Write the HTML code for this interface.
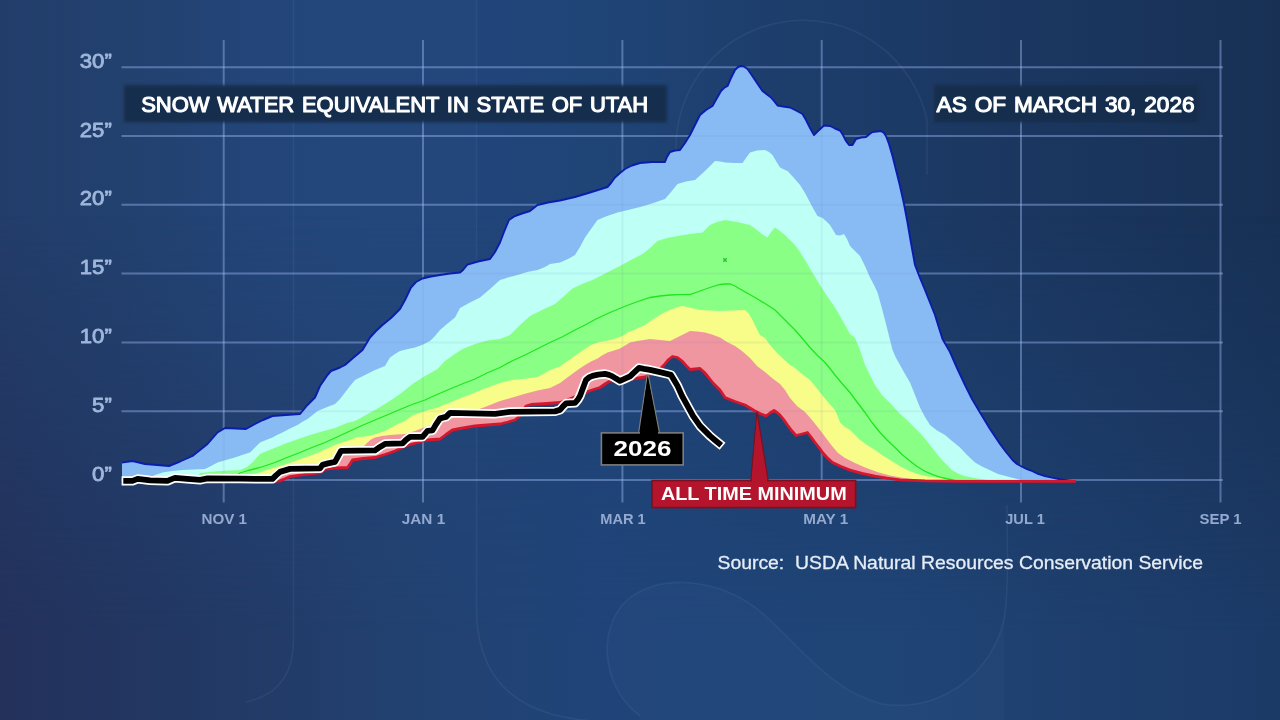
<!DOCTYPE html>
<html lang="en"><head><meta charset="utf-8"><title>Snow Water Equivalent in State of Utah</title>
<style>
html,body{margin:0;padding:0;background:#21426f;overflow:hidden}
svg{display:block;width:1280px;height:720px;font-family:"Liberation Sans",sans-serif}
.yl text{font-size:19.8px;fill:#9fb6dc;stroke:#9fb6dc;stroke-width:.8px;stroke-linejoin:round}
.xl text{font-size:15px;font-weight:bold;fill:#93a9cf}
.ttl{font-size:21.2px;fill:#fff;stroke:#fff;stroke-width:1.1px;stroke-linejoin:round;word-spacing:1.5px}
</style></head><body>
<svg width="1280" height="720" viewBox="0 0 1280 720">
<defs>
<linearGradient id="bgx" x1="0" y1="0" x2="1" y2="0">
<stop offset="0" stop-color="#233d6a"/><stop offset=".1" stop-color="#22416f"/><stop offset=".2" stop-color="#234579"/><stop offset=".26" stop-color="#23477b"/><stop offset=".371" stop-color="#23477b"/><stop offset=".372" stop-color="#21457a"/><stop offset=".47" stop-color="#1f4476"/><stop offset=".7" stop-color="#1c3a66"/><stop offset=".86" stop-color="#1a355d"/><stop offset="1" stop-color="#173054"/>
</linearGradient>
<linearGradient id="bgb" x1="0" y1="0" x2="1" y2="0">
<stop offset="0" stop-color="#23315b"/><stop offset=".12" stop-color="#223762"/><stop offset=".23" stop-color="#223c69"/><stop offset=".31" stop-color="#224170"/><stop offset=".47" stop-color="#204479"/><stop offset=".7" stop-color="#1f4476"/><stop offset=".85" stop-color="#1e3f6e"/><stop offset="1" stop-color="#1c3a66"/>
</linearGradient>
<linearGradient id="vm" x1="0" y1="0" x2="0" y2="1">
<stop offset=".3" stop-color="#000"/><stop offset=".88" stop-color="#fff"/>
</linearGradient>
<mask id="vmask" maskUnits="userSpaceOnUse" x="0" y="0" width="1280" height="720"><rect width="1280" height="720" fill="url(#vm)"/></mask>
<filter id="soft" x="-5%" y="-20%" width="110%" height="140%"><feGaussianBlur stdDeviation="1.6"/></filter>
<clipPath id="fillclip"><polygon points="122,462.5 132.5,461 145,464 157,465 169,466 180,461.5 192.5,456 207.5,444 217.5,432.5 225,428 236,428.5 246,429 255,424 263,420 272.5,416 286,415 300,414 307.5,405 315,397.5 320,386 327.5,375 331,371 340,367.5 345,365 353,358 362.5,350 370,337.5 376,331 382.5,325 391,318 400,309 405,300 411,287.5 416,282 422.5,278.5 431,276.5 440,275 450,273.5 460,272.5 463,270 467.5,264.5 478,261.5 490,259 495,252 500,242.5 504,232 509,220 515,216 522,213.5 530,211 537.5,205 548,202.5 560,200.5 575,197 590,192.5 607.5,187 611,183 615,177.5 620,173 625,169 632,165.5 640,163 652,162 665,162 667,157 670,152 675,150.5 680,150 685,143 690,135 695,125 700,115 706,110 712.5,106 717,98 721,91 724,88 727.5,86 731,78 735,70 738,67 741,66 744,66.5 747.5,69 751,74 755,80 759,86 762.5,91 767,94.5 771,97.5 774,101 777.5,105.5 783,106.5 790,107.5 796,110.5 802.5,114 806,120 810,128 814,135 818,131 824,125.5 830,126 835,128.5 840,130.5 843,135 846,141 849,145 852.5,145 856,139 861,137.5 866,137 869,134.5 872.5,132 877,131.5 881,131 884,133 886,136 889,144 892.5,156 896,170 900,186 904,204 907.5,222.5 911,243 915,265 920,278 925,290 930,302.5 935,315 939,328 942.5,339 950,352 957,368 965,385 972,399 980,412.5 990,429 1000,444 1006,452 1012.5,460 1017,464 1022.5,467 1027,469.07 1032.5,471.23 1038,473.91 1045,476.06 1052,477.68 1060,479.29 1068,480.36 1076,481.4 1076,481.4 960,481.4 925,480.9 900,479.82 887,478.21 875,476.06 862,473.38 850,470.15 841,466.5 832.5,462.5 827,457.5 822.5,452.5 819,447.5 815,442.5 811,437 807.5,432.5 802,434 796,435.5 792,431 787.5,425 784,420 780,415 777,412.5 774,410.5 770,413 766,416 760,413.5 755,411 750,408 745,405 735,401.5 725,397.5 720,390 713,383 707.5,376 704,372 700,368.5 695,369 690,369.5 686,365.5 682,361 677.5,357.5 672.5,356.5 668,360 664,365 660,369 655,373 645,377 632,379 620,380 610,381 605,384 600,387.5 592,390 585,392.5 572,398 560,402.5 547,403.5 531,404.5 526,406 522,411 519,416.5 515,420 508,422 500,424 487,425 475,426 463,428 452.5,430 446,434.5 440,439 427.5,440 416,443 405,446 400,448.5 395,451 385,454.5 375,457.5 363,458.5 352.5,460 350,464 347.5,467.5 336,468 325,469.07 320,472.84 305,474.45 290,476.6 285,478.75 280,480.9 275,481.4 122,481.4"/></clipPath>
</defs>
<rect width="1280" height="720" fill="url(#bgx)"/>
<rect width="1280" height="720" fill="url(#bgb)" mask="url(#vmask)"/>
<g fill="none" stroke="#bcd2ff" stroke-opacity=".07" stroke-width="1.6">
<path d="M293.5 0V640Q293.5 692 246 702"/>
<path d="M476.5 0V612C478 682 520 716 592 721"/>
<path d="M640 716C606 690 596 640 622 605C655 570 722 578 762 613C802 648 832 692 882 704C942 713 992 672 1004 620C1009 590 1007 545 1007 505"/>
<path d="M676 150A127 127 0 0 1 927 120V175"/>
</g>
<path d="M640 716C606 690 596 640 622 605C655 570 722 578 762 613C802 648 832 692 882 704C942 713 992 672 1004 620L1004 720H640Z" fill="#9fc0ff" fill-opacity=".025"/>
<g stroke="#a8c4ff" stroke-opacity=".4" stroke-width="2" fill="none"><line x1="223.7" y1="40" x2="223.7" y2="502.5"/><line x1="423.0" y1="40" x2="423.0" y2="502.5"/><line x1="622.4" y1="40" x2="622.4" y2="502.5"/><line x1="821.7" y1="40" x2="821.7" y2="502.5"/><line x1="1021.0" y1="40" x2="1021.0" y2="502.5"/><line x1="1220.5" y1="40" x2="1220.5" y2="502.5"/><line x1="121.5" y1="67.2" x2="1223" y2="67.2"/><line x1="121.5" y1="136" x2="1223" y2="136"/><line x1="121.5" y1="204.8" x2="1223" y2="204.8"/><line x1="121.5" y1="273.6" x2="1223" y2="273.6"/><line x1="121.5" y1="342.4" x2="1223" y2="342.4"/><line x1="121.5" y1="411.2" x2="1223" y2="411.2"/><line x1="121.5" y1="480.1" x2="1223" y2="480.1"/></g>
<g stroke="none">
<polygon fill="#88bbf4" points="122,462.5 132.5,461 145,464 157,465 169,466 180,461.5 192.5,456 207.5,444 217.5,432.5 225,428 236,428.5 246,429 255,424 263,420 272.5,416 286,415 300,414 307.5,405 315,397.5 320,386 327.5,375 331,371 340,367.5 345,365 353,358 362.5,350 370,337.5 376,331 382.5,325 391,318 400,309 405,300 411,287.5 416,282 422.5,278.5 431,276.5 440,275 450,273.5 460,272.5 463,270 467.5,264.5 478,261.5 490,259 495,252 500,242.5 504,232 509,220 515,216 522,213.5 530,211 537.5,205 548,202.5 560,200.5 575,197 590,192.5 607.5,187 611,183 615,177.5 620,173 625,169 632,165.5 640,163 652,162 665,162 667,157 670,152 675,150.5 680,150 685,143 690,135 695,125 700,115 706,110 712.5,106 717,98 721,91 724,88 727.5,86 731,78 735,70 738,67 741,66 744,66.5 747.5,69 751,74 755,80 759,86 762.5,91 767,94.5 771,97.5 774,101 777.5,105.5 783,106.5 790,107.5 796,110.5 802.5,114 806,120 810,128 814,135 818,131 824,125.5 830,126 835,128.5 840,130.5 843,135 846,141 849,145 852.5,145 856,139 861,137.5 866,137 869,134.5 872.5,132 877,131.5 881,131 884,133 886,136 889,144 892.5,156 896,170 900,186 904,204 907.5,222.5 911,243 915,265 920,278 925,290 930,302.5 935,315 939,328 942.5,339 950,352 957,368 965,385 972,399 980,412.5 990,429 1000,444 1006,452 1012.5,460 1017,464 1022.5,467 1027,469.07 1032.5,471.23 1038,473.91 1045,476.06 1052,477.68 1060,479.29 1068,480.36 1076,481.4 1076,481.4 960,481.4 925,480.9 900,479.82 887,478.21 875,476.06 862,473.38 850,470.15 841,466.5 832.5,462.5 827,457.5 822.5,452.5 819,447.5 815,442.5 811,437 807.5,432.5 802,434 796,435.5 792,431 787.5,425 784,420 780,415 777,412.5 774,410.5 770,413 766,416 760,413.5 755,411 750,408 745,405 735,401.5 725,397.5 720,390 713,383 707.5,376 704,372 700,368.5 695,369 690,369.5 686,365.5 682,361 677.5,357.5 672.5,356.5 668,360 664,365 660,369 655,373 645,377 632,379 620,380 610,381 605,384 600,387.5 592,390 585,392.5 572,398 560,402.5 547,403.5 531,404.5 526,406 522,411 519,416.5 515,420 508,422 500,424 487,425 475,426 463,428 452.5,430 446,434.5 440,439 427.5,440 416,443 405,446 400,448.5 395,451 385,454.5 375,457.5 363,458.5 352.5,460 350,464 347.5,467.5 336,468 325,469.07 320,472.84 305,474.45 290,476.6 285,478.75 280,480.9 275,481.4 122,481.4"/>
<polygon fill="#befff6" points="148,478 155,475 162.5,472.5 172,471 182.5,470 194,469.5 205,469 211,466 217.5,462.5 226,460 235,457.5 242,455 250,452.5 260,442.5 266,440 272.5,437.5 277,435 282.5,432.5 290,428.5 297.5,425 302,422 307.5,419 312,415.5 317.5,411 326,407.5 335,404 340,399 345,392.5 350,386 355,380 365,375 375,370 385,366 390,357.5 395,354 400,351 408,349 415,347.5 422,345 430,341 435,336 440,330 447,324 455,317.5 460,308 470,302.5 480,297.5 490,289 500,280 508,277.5 517.5,275 527,272 537.5,270 545,267 550,264 560,262.5 568,259 575,255 580,247 585,237.5 591,229 597.5,220 607,216 617.5,212.5 628,210 640,207 652,203.5 665,199 671,192 677.5,184 686,181.5 695,180 705,171 715,161 720,161.5 725,162.5 734,163 742.5,163 746,158 750,152.5 757,150.5 765,150 769,152 772.5,155 776,161 780,167.5 784,169.5 787.5,171 794,178 800,185 805,193 810,202.5 814,210 817.5,216 822.5,218 826,221 830,225 833,230 836,235 840,235.5 844,234 847,239 850,246 855,251 860,256 865,266 870,277.5 874,285 877.5,292.5 881,305 885,320 889,336 892.5,350 896,358 900,365 905,374 910,382.5 915,395 920,407.5 925,417 930,425 937,430.5 945,435 952,441 960,447.5 967,455 975,462.5 982,466.5 990,470.15 998,473.91 1007.5,476.6 1020,479.82 1035,481.4 1035,481.4 960,481.4 925,480.9 900,479.82 887,478.21 875,476.06 862,473.38 850,470.15 841,466.5 832.5,462.5 827,457.5 822.5,452.5 819,447.5 815,442.5 811,437 807.5,432.5 802,434 796,435.5 792,431 787.5,425 784,420 780,415 777,412.5 774,410.5 770,413 766,416 760,413.5 755,411 750,408 745,405 735,401.5 725,397.5 720,390 713,383 707.5,376 704,372 700,368.5 695,369 690,369.5 686,365.5 682,361 677.5,357.5 672.5,356.5 668,360 664,365 660,369 655,373 645,377 632,379 620,380 610,381 605,384 600,387.5 592,390 585,392.5 572,398 560,402.5 547,403.5 531,404.5 526,406 522,411 519,416.5 515,420 508,422 500,424 487,425 475,426 463,428 452.5,430 446,434.5 440,439 427.5,440 416,443 405,446 400,448.5 395,451 385,454.5 375,457.5 363,458.5 352.5,460 350,464 347.5,467.5 336,468 325,469.07 320,472.84 305,474.45 290,476.6 285,478.75 280,480.9 275,481.4 148,481.4"/>
<polygon fill="#8aff86" points="196,479 200,473 210,472 220,471 230,470.5 240,470 247,467 253,462 260,454 272,449 285,443.7 297,439.5 310,435 322,431.5 335,428 347,423 355,421 365,415.5 375,410 385,404 395,397.5 400,394 412.5,384 425,376 437.5,369 445,361 454,354.5 462.5,349 475,344 487.5,340.5 500,339 510,335 520,325 530,316 542,310 555,304 563,297 572.5,288.5 582,284 592.5,280 606,273 620,266 631,260 642.5,254 650,248 657.5,241 667,238 677.5,236 690,234 702.5,232.5 706,229 710,225 717,222 725,220 737,222 750,225 755,228.5 760,232.5 764,235.5 767.5,237.5 771,232 775,227.5 780,231 785,235 790,240 795,245 800,252 805,260 812,272 820,285 827,296 835,307.5 840,316 845,325 850,334 855,338 860,350 865,365 870,375 875,385 882,395 892,405 899,413 907,420 913,426 919.5,432.5 926,440 932,447.5 937,454 942,460 947,465 952,470.15 958,473.38 964.5,476.06 973,477.68 982,479.29 1002,481.4 1002,481.4 960,481.4 925,480.9 900,479.82 887,478.21 875,476.06 862,473.38 850,470.15 841,466.5 832.5,462.5 827,457.5 822.5,452.5 819,447.5 815,442.5 811,437 807.5,432.5 802,434 796,435.5 792,431 787.5,425 784,420 780,415 777,412.5 774,410.5 770,413 766,416 760,413.5 755,411 750,408 745,405 735,401.5 725,397.5 720,390 713,383 707.5,376 704,372 700,368.5 695,369 690,369.5 686,365.5 682,361 677.5,357.5 672.5,356.5 668,360 664,365 660,369 655,373 645,377 632,379 620,380 610,381 605,384 600,387.5 592,390 585,392.5 572,398 560,402.5 547,403.5 531,404.5 526,406 522,411 519,416.5 515,420 508,422 500,424 487,425 475,426 463,428 452.5,430 446,434.5 440,439 427.5,440 416,443 405,446 400,448.5 395,451 385,454.5 375,457.5 363,458.5 352.5,460 350,464 347.5,467.5 336,468 325,469.07 320,472.84 305,474.45 290,476.6 285,478.75 280,480.9 275,481.4 196,481.4"/>
<polygon fill="#f7fd88" points="248,479 252,474.5 260,472.5 267,470 275,467.5 285,464.5 295,461 305,457.5 315,454 325,449.5 335,445 342,442.5 350,440 357,437 365,436.5 372.5,435 379,433 385,431 392,427 397.5,424 404,421.5 412.5,415.5 425,411 437.5,407.5 450,402.5 462.5,397.5 475,392.5 487.5,387.5 500,383 512.5,380 525,378.7 537.5,377 543.7,373.7 550,370 560,366.5 566,362 572.5,357.5 579,353 585,348.7 591,345 597.5,342.5 604,341.3 610,340 616,338.3 622.5,336 627.5,332.5 636,329 645,325 652,320 660,315 665,312 670,310 676,307.5 682.5,306 691,308 700,310 710,310.5 720,311 732,310.5 745,310 749,314 752.5,320 756,327.5 760,335 765,338 770,345 777,353 785,360.5 790,365 795,368 802,374 810,380 815,386 820,392.5 827,401 835,410 838,417 840,422.5 845,427 850,430 855,435 860,440 867,445 875,450 882,455 890,460 898,465 907.5,470.15 916,473.38 925,476.06 937,477.68 950,479.29 975,481.4 975,481.4 960,481.4 925,480.9 900,479.82 887,478.21 875,476.06 862,473.38 850,470.15 841,466.5 832.5,462.5 827,457.5 822.5,452.5 819,447.5 815,442.5 811,437 807.5,432.5 802,434 796,435.5 792,431 787.5,425 784,420 780,415 777,412.5 774,410.5 770,413 766,416 760,413.5 755,411 750,408 745,405 735,401.5 725,397.5 720,390 713,383 707.5,376 704,372 700,368.5 695,369 690,369.5 686,365.5 682,361 677.5,357.5 672.5,356.5 668,360 664,365 660,369 655,373 645,377 632,379 620,380 610,381 605,384 600,387.5 592,390 585,392.5 572,398 560,402.5 547,403.5 531,404.5 526,406 522,411 519,416.5 515,420 508,422 500,424 487,425 475,426 463,428 452.5,430 446,434.5 440,439 427.5,440 416,443 405,446 400,448.5 395,451 385,454.5 375,457.5 363,458.5 352.5,460 350,464 347.5,467.5 336,468 325,469.07 320,472.84 305,474.45 290,476.6 285,478.75 280,480.9 275,481.4 248,481.4"/>
<polygon fill="#f096a0" points="272,480.5 278,476.5 284,473.5 290,471 305,469.5 320,468.5 324,465.5 330,463 336,461 339,456 342,452.5 352,450.5 363,447 367.5,442.5 371,439.5 375,437.5 382,436 390,435 397,434.5 405,434 415,431 425,427 435,424 445,421 455,417 465,412.5 478,409.5 487.5,406 500,401 512.5,397.5 525,393.7 537.5,390.6 550,388 560,383 566,378.5 572.5,373.7 579,369 585,365 591,361.5 597.5,358.5 602,355.5 607.5,352.5 614,350.5 620,348.5 625,345.5 630,342.5 637,341 650,339 660,340 670,341 680,336 690,331 697,331.5 705,332.5 712,334.5 720,337.5 727,342 735,346 742,351 750,358 757,366 765,372 772,378 780,384 785,390 790,398 797,406 805,412 812,420 820,430 826,438 832,446 838,453 845,458 855,463 865,467.5 878,472.3 890,475.52 905,478.21 925,480.36 950,481.4 950,481.257 925,480.9 900,479.82 887,478.21 875,476.06 862,473.38 850,470.15 841,466.5 832.5,462.5 827,457.5 822.5,452.5 819,447.5 815,442.5 811,437 807.5,432.5 802,434 796,435.5 792,431 787.5,425 784,420 780,415 777,412.5 774,410.5 770,413 766,416 760,413.5 755,411 750,408 745,405 735,401.5 725,397.5 720,390 713,383 707.5,376 704,372 700,368.5 695,369 690,369.5 686,365.5 682,361 677.5,357.5 672.5,356.5 668,360 664,365 660,369 655,373 645,377 632,379 620,380 610,381 605,384 600,387.5 592,390 585,392.5 572,398 560,402.5 547,403.5 531,404.5 526,406 522,411 519,416.5 515,420 508,422 500,424 487,425 475,426 463,428 452.5,430 446,434.5 440,439 427.5,440 416,443 405,446 400,448.5 395,451 385,454.5 375,457.5 363,458.5 352.5,460 350,464 347.5,467.5 336,468 325,469.07 320,472.84 305,474.45 290,476.6 285,478.75 280,480.9 275,481.4 272,481.4"/>
</g>
<g clip-path="url(#fillclip)" stroke="#5f7fae" stroke-opacity=".09" stroke-width="2" fill="none"><line x1="223.7" y1="40" x2="223.7" y2="502.5"/><line x1="423.0" y1="40" x2="423.0" y2="502.5"/><line x1="622.4" y1="40" x2="622.4" y2="502.5"/><line x1="821.7" y1="40" x2="821.7" y2="502.5"/><line x1="1021.0" y1="40" x2="1021.0" y2="502.5"/><line x1="1220.5" y1="40" x2="1220.5" y2="502.5"/><line x1="121.5" y1="67.2" x2="1223" y2="67.2"/><line x1="121.5" y1="136" x2="1223" y2="136"/><line x1="121.5" y1="204.8" x2="1223" y2="204.8"/><line x1="121.5" y1="273.6" x2="1223" y2="273.6"/><line x1="121.5" y1="342.4" x2="1223" y2="342.4"/><line x1="121.5" y1="411.2" x2="1223" y2="411.2"/><line x1="121.5" y1="480.1" x2="1223" y2="480.1"/></g>
<path d="M238 474.5 L240 473 L250 470 L260 467.5 L275 462.5 L287 457.5 L300 452.5 L312 447.5 L325 442.5 L337 437 L350 431 L362 425.5 L375 420 L387 415 L400 409.5 L412 404.5 L425 400 L437 394.5 L450 389 L462 384 L475 379 L487 373 L500 367.5 L512 361 L525 355 L537 349 L550 342.5 L562 337 L575 330 L585 325 L597 318.5 L610 312.5 L622 307.5 L635 302.5 L650 297.5 L660 296 L670 295 L680 294.7 L690 294.5 L700 291 L710 287.5 L720 284.5 L725 284 L730 284 L735 286 L740 289 L747 293 L755 297.5 L765 303.5 L775 310 L785 320 L795 330 L802 338 L810 347.5 L817 355 L825 362.5 L830 368.5 L835 375 L842 383.5 L850 392.5 L857 402 L865 412.5 L872 422.5 L880 432.5 L887 440 L895 447.5 L902 454.5 L910 461 L917 466.5 L925 471.23 L932 474.45 L940 477.14 L947 478.75 L955 480.36 L965 481.4" fill="none" stroke="#1fe61f" stroke-width="1.3"/>
<path d="M723.3 258.3l3.4 3.4m0-3.4l-3.4 3.4" stroke="#27c427" stroke-width="1.4" fill="none"/>
<path d="M122 462.5 L132.5 461 L145 464 L157 465 L169 466 L180 461.5 L192.5 456 L207.5 444 L217.5 432.5 L225 428 L236 428.5 L246 429 L255 424 L263 420 L272.5 416 L286 415 L300 414 L307.5 405 L315 397.5 L320 386 L327.5 375 L331 371 L340 367.5 L345 365 L353 358 L362.5 350 L370 337.5 L376 331 L382.5 325 L391 318 L400 309 L405 300 L411 287.5 L416 282 L422.5 278.5 L431 276.5 L440 275 L450 273.5 L460 272.5 L463 270 L467.5 264.5 L478 261.5 L490 259 L495 252 L500 242.5 L504 232 L509 220 L515 216 L522 213.5 L530 211 L537.5 205 L548 202.5 L560 200.5 L575 197 L590 192.5 L607.5 187 L611 183 L615 177.5 L620 173 L625 169 L632 165.5 L640 163 L652 162 L665 162 L667 157 L670 152 L675 150.5 L680 150 L685 143 L690 135 L695 125 L700 115 L706 110 L712.5 106 L717 98 L721 91 L724 88 L727.5 86 L731 78 L735 70 L738 67 L741 66 L744 66.5 L747.5 69 L751 74 L755 80 L759 86 L762.5 91 L767 94.5 L771 97.5 L774 101 L777.5 105.5 L783 106.5 L790 107.5 L796 110.5 L802.5 114 L806 120 L810 128 L814 135 L818 131 L824 125.5 L830 126 L835 128.5 L840 130.5 L843 135 L846 141 L849 145 L852.5 145 L856 139 L861 137.5 L866 137 L869 134.5 L872.5 132 L877 131.5 L881 131 L884 133 L886 136 L889 144 L892.5 156 L896 170 L900 186 L904 204 L907.5 222.5 L911 243 L915 265 L920 278 L925 290 L930 302.5 L935 315 L939 328 L942.5 339 L950 352 L957 368 L965 385 L972 399 L980 412.5 L990 429 L1000 444 L1006 452 L1012.5 460 L1017 464 L1022.5 467 L1027 469.07 L1032.5 471.23 L1038 473.91 L1045 476.06 L1052 477.68 L1060 479.29 L1068 480.36 L1076 481.4" fill="none" stroke="#0b1dac" stroke-width="1.9" stroke-linejoin="round"/>
<path d="M275 481.4 L280 480.9 L285 478.75 L290 476.6 L305 474.45 L320 472.84 L325 469.07 L336 468 L347.5 467.5 L350 464 L352.5 460 L363 458.5 L375 457.5 L385 454.5 L395 451 L400 448.5 L405 446 L416 443 L427.5 440 L440 439 L446 434.5 L452.5 430 L463 428 L475 426 L487 425 L500 424 L508 422 L515 420 L519 416.5 L522 411 L526 406 L531 404.5 L547 403.5 L560 402.5 L572 398 L585 392.5 L592 390 L600 387.5 L605 384 L610 381 L620 380 L632 379 L645 377 L655 373 L660 369 L664 365 L668 360 L672.5 356.5 L677.5 357.5 L682 361 L686 365.5 L690 369.5 L695 369 L700 368.5 L704 372 L707.5 376 L713 383 L720 390 L725 397.5 L735 401.5 L745 405 L750 408 L755 411 L760 413.5 L766 416 L770 413 L774 410.5 L777 412.5 L780 415 L784 420 L787.5 425 L792 431 L796 435.5 L802 434 L807.5 432.5 L811 437 L815 442.5 L819 447.5 L822.5 452.5 L827 457.5 L832.5 462.5 L841 466.5 L850 470.15 L862 473.38 L875 476.06 L887 478.21 L900 479.82 L925 480.9 L960 481.4 L1076 481.4" fill="none" stroke="#d5172e" stroke-width="2.8" stroke-linejoin="round"/>
<!-- title boxes -->
<rect x="123.7" y="85" width="543.3" height="37.5" fill="#152d4d" filter="url(#soft)"/>
<text class="ttl" x="141.2" y="112" textLength="507" lengthAdjust="spacingAndGlyphs">SNOW WATER EQUIVALENT IN STATE OF UTAH</text>
<rect x="933.7" y="85" width="266" height="37.5" fill="#142d4d" filter="url(#soft)"/>
<text class="ttl" x="936.6" y="112" textLength="258" lengthAdjust="spacingAndGlyphs">AS OF MARCH 30, 2026</text>
<g class="yl"><text transform="translate(111.8 67.7) scale(1.12 1)" text-anchor="end">30”</text><text transform="translate(111.8 136.5) scale(1.12 1)" text-anchor="end">25”</text><text transform="translate(111.8 205.3) scale(1.12 1)" text-anchor="end">20”</text><text transform="translate(111.8 274.1) scale(1.12 1)" text-anchor="end">15”</text><text transform="translate(111.8 342.9) scale(1.12 1)" text-anchor="end">10”</text><text transform="translate(111.8 411.7) scale(1.12 1)" text-anchor="end">5”</text><text transform="translate(111.8 480.6) scale(1.12 1)" text-anchor="end">0”</text></g>
<g class="xl"><text x="201.45" y="523.8" textLength="45.5" lengthAdjust="spacingAndGlyphs">NOV 1</text><text x="401.75" y="523.8" textLength="43.5" lengthAdjust="spacingAndGlyphs">JAN 1</text><text x="600.25" y="523.8" textLength="45.5" lengthAdjust="spacingAndGlyphs">MAR 1</text><text x="803.2" y="523.8" textLength="45" lengthAdjust="spacingAndGlyphs">MAY 1</text><text x="1005.25" y="523.8" textLength="39.5" lengthAdjust="spacingAndGlyphs">JUL 1</text><text x="1199.5" y="523.8" textLength="42" lengthAdjust="spacingAndGlyphs">SEP 1</text></g>
<!-- all time minimum callout -->
<polygon points="757,411.5 750.8,481 768.2,481" fill="#b5152c" stroke="#7a1021" stroke-width="1.2"/>
<rect x="652" y="480.6" width="203.6" height="27" fill="#b5152c" stroke="#7a1021" stroke-width="1.6"/>
<polygon points="757,417 751.7,482 767.3,482" fill="#b5152c"/>
<text x="660.9" y="500.3" font-size="18.6px" font-weight="bold" fill="#fff" textLength="185.8" lengthAdjust="spacingAndGlyphs">ALL TIME MINIMUM</text>
<!-- 2026 callout -->
<polygon points="647.7,372 638.6,433 659.5,433" fill="#000" stroke="#7d7d7d" stroke-width="1.2"/>
<rect x="601.4" y="432.9" width="81.8" height="32" fill="#000" stroke="#7d7d7d" stroke-width="1.6"/>
<polygon points="647.7,377 639.8,434.5 658.3,434.5" fill="#000"/>
<text x="613.6" y="456.4" font-size="22.3px" font-weight="bold" fill="#fff" textLength="57.8" lengthAdjust="spacingAndGlyphs">2026</text>
<!-- 2026 line -->
<path d="M126.2 480.9 L132.5 480.9 L137.5 478.9 L144 479.6 L150 480.4 L158 480.7 L167.5 480.9 L171 479.4 L175 477.9 L187 478.9 L200 479.9 L204 479.1 L207.5 478.4 L240 478.7 L272.5 478.9 L276 475.4 L280 471.9 L285 470.4 L290 468.9 L305 468.6 L320 468.4 L322.5 464.9 L328 463.4 L335 461.9 L338 456.4 L341 450.9 L358 450.6 L375 450.4 L380 446.9 L385 443.9 L394 443.6 L402.5 443.4 L406 439.9 L410 436.9 L416 436.9 L422.5 436.9 L425 433.9 L427.5 430.9 L432.5 430.4 L436 424.4 L440 418.4 L446 416.9 L450 412.9 L472 413.4 L495 413.9 L510 411.9 L532 411.6 L555 411.4 L560 409.9 L563 406.4 L566 403.4 L575 402.9 L578 399.4 L580 395.9 L583 387.9 L586 379.9 L589 377.4 L592.5 375.9 L598 374.6 L605 373.9 L609 374.9 L612.5 376.4 L616 378.6 L620 380.9 L625 378.7 L630 376.4 L634.5 372.1 L639 367.9 L644 368.9 L650 369.9 L660 372.2 L671 374.9 L674 379.9 L677.5 385.9 L682 395.9 L687.5 405.9 L693 415.9 L700 425.9 L705 430.9 L710 435.9 L714.5 439.7 L719 443.4" fill="none" stroke="#fff" stroke-width="9.2" stroke-linejoin="round" stroke-linecap="square"/>
<path d="M126.2 480.9 L132.5 480.9 L137.5 478.9 L144 479.6 L150 480.4 L158 480.7 L167.5 480.9 L171 479.4 L175 477.9 L187 478.9 L200 479.9 L204 479.1 L207.5 478.4 L240 478.7 L272.5 478.9 L276 475.4 L280 471.9 L285 470.4 L290 468.9 L305 468.6 L320 468.4 L322.5 464.9 L328 463.4 L335 461.9 L338 456.4 L341 450.9 L358 450.6 L375 450.4 L380 446.9 L385 443.9 L394 443.6 L402.5 443.4 L406 439.9 L410 436.9 L416 436.9 L422.5 436.9 L425 433.9 L427.5 430.9 L432.5 430.4 L436 424.4 L440 418.4 L446 416.9 L450 412.9 L472 413.4 L495 413.9 L510 411.9 L532 411.6 L555 411.4 L560 409.9 L563 406.4 L566 403.4 L575 402.9 L578 399.4 L580 395.9 L583 387.9 L586 379.9 L589 377.4 L592.5 375.9 L598 374.6 L605 373.9 L609 374.9 L612.5 376.4 L616 378.6 L620 380.9 L625 378.7 L630 376.4 L634.5 372.1 L639 367.9 L644 368.9 L650 369.9 L660 372.2 L671 374.9 L674 379.9 L677.5 385.9 L682 395.9 L687.5 405.9 L693 415.9 L700 425.9 L705 430.9 L710 435.9 L714.5 439.7 L719 443.4" fill="none" stroke="#000" stroke-width="5.8" stroke-linejoin="round" stroke-linecap="square"/>
<text x="717.5" y="568.9" font-size="19px" fill="#e6edf7" stroke="#e6edf7" stroke-width=".3" xml:space="preserve" textLength="485.5" lengthAdjust="spacingAndGlyphs">Source:  USDA Natural Resources Conservation Service</text>
</svg>
</body></html>
